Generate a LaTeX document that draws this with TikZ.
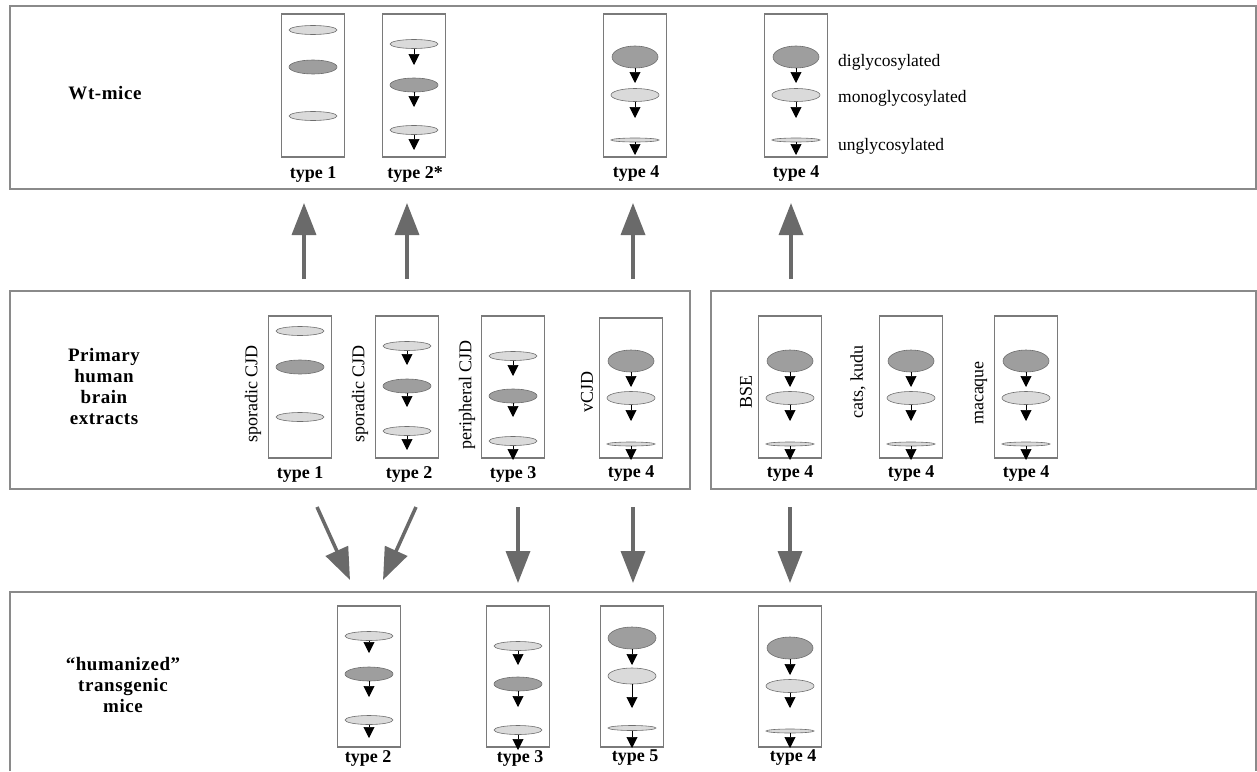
\documentclass[tikz,border=0pt]{standalone}
\usepackage{fontspec}
\setmainfont{Liberation Serif}
\newfontfamily\lblfont[LetterSpace=3]{Liberation Serif}
\usetikzlibrary{arrows.meta,shapes.geometric}
\definecolor{panelgray}{HTML}{8A8A8A}
\definecolor{lanegray}{HTML}{7A7A7A}
\definecolor{darkband}{HTML}{9E9E9E}
\definecolor{lightband}{HTML}{DADADA}
\definecolor{bandedge}{HTML}{6E6E6E}
\definecolor{bigarrow}{HTML}{6A6A6A}
\tikzset{
 panel/.style={draw=panelgray, line width=1.4pt},
 lanebox/.style={draw=lanegray, line width=1.1pt, minimum width=63pt, inner sep=0pt, outer sep=0pt},
 band/.style={ellipse, draw=bandedge, line width=0.6pt, inner sep=0pt, outer sep=0pt, minimum width=48pt},
 lband/.style={band, fill=lightband, minimum height=9pt},
 dband/.style={band, fill=darkband, minimum height=14pt},
 bigdband/.style={band, fill=darkband, minimum height=22pt, minimum width=46pt},
 midlband/.style={band, fill=lightband, minimum height=13pt},
 thinband/.style={band, fill=lightband, minimum height=4pt},
 smallarr/.style={draw=black, line width=0.6pt, -{Triangle[length=11pt,width=11pt]}},
 bigarr/.style={draw=bigarrow, line width=3.5pt, -{Triangle[length=32pt,width=24pt]}},
 typelbl/.style={font=\fontsize{18}{20}\selectfont\bfseries, inner sep=0pt},
 sidelbl/.style={font=\fontsize{18}{20}\selectfont, rotate=90, inner sep=0pt},
 glylbl/.style={font=\fontsize{17.5}{20}\selectfont, anchor=west, inner sep=0pt},
 rowlbl/.style={font=\lblfont\fontsize{19}{21}\selectfont\bfseries, align=center, inner sep=0pt},
}
\newcommand\barr[2]{\coordinate (#1t) at (#1.south |- 0,#2);\draw[smallarr] (#1.south) -- (#1t);}
\begin{document}
\begin{tikzpicture}[x=1pt,y=-1pt]
\useasboundingbox (0,0) rectangle (1257,771);
\clip (0,0) rectangle (1257,771);
% panels
\draw[panel] (10,6) rectangle (1256,189);
\draw[panel] (10,291) rectangle (690,489);
\draw[panel] (711,291) rectangle (1256,489);
\draw[panel] (10,771) -- (10,592) -- (1256,592) -- (1256,771);
% row labels
\node[rowlbl] (R1) at (105,93) {Wt-mice};
\node[rowlbl] (R2) at (104,386) {Primary\\human\\brain\\extracts};
\node[rowlbl] (R3) at (123,685) {“humanized”\\transgenic\\mice};
% ---------- top row ----------
\node[lanebox, minimum height=143pt] (T1) at (313,85.5) {};
\node[lband] (T1a) at (313,30) {};
\node[dband] (T1b) at (313,67) {};
\node[lband] (T1c) at (313,116) {};
\node[typelbl] (T1l) at (313,174) {type 1};

\node[lanebox, minimum height=143pt] (T2) at (414,85.5) {};
\node[lband] (T2a) at (414,44) {}; \barr{T2a}{65}
\node[dband] (T2b) at (414,85) {}; \barr{T2b}{107}
\node[lband] (T2c) at (414,130) {}; \barr{T2c}{150}
\node[typelbl] (T2l) at (415,174) {type 2*};

\node[lanebox, minimum height=143pt] (T3) at (635,85.5) {};
\node[bigdband] (T3a) at (635,57) {}; \barr{T3a}{83}
\node[midlband] (T3b) at (635,95) {}; \barr{T3b}{118}
\node[thinband] (T3c) at (635,140) {}; \barr{T3c}{155}
\node[typelbl] (T3l) at (636,174) {type 4};

\node[lanebox, minimum height=143pt] (T4) at (796,85.5) {};
\node[bigdband] (T4a) at (796,57) {}; \barr{T4a}{83}
\node[midlband] (T4b) at (796,95) {}; \barr{T4b}{118}
\node[thinband] (T4c) at (796,140) {}; \barr{T4c}{155}
\node[typelbl] (T4l) at (796,174) {type 4};

\node[glylbl] (G1) at (838,62) {diglycosylated};
\node[glylbl] (G2) at (838,98) {monoglycosylated};
\node[glylbl] (G3) at (838,146) {unglycosylated};
% ---------- middle row ----------
\node[lanebox, minimum height=142pt] (M1) at (300,387) {};
\node[lband] (M1a) at (300,331) {};
\node[dband] (M1b) at (300,367) {};
\node[lband] (M1c) at (300,417) {};
\node[typelbl] (M1l) at (300,474) {type 1};
\node[sidelbl] (M1s) at (253,394) {sporadic CJD};

\node[lanebox, minimum height=142pt] (M2) at (407,387) {};
\node[lband] (M2a) at (407,346) {}; \barr{M2a}{365}
\node[dband] (M2b) at (407,386) {}; \barr{M2b}{407}
\node[lband] (M2c) at (407,431) {}; \barr{M2c}{450}
\node[typelbl] (M2l) at (409,474) {type 2};
\node[sidelbl] (M2s) at (360,394) {sporadic CJD};

\node[lanebox, minimum height=142pt] (M3) at (513,387) {};
\node[lband] (M3a) at (513,356) {}; \barr{M3a}{376}
\node[dband] (M3b) at (513,396) {}; \barr{M3b}{417}
\node[lband] (M3c) at (513,441) {}; \barr{M3c}{460}
\node[typelbl] (M3l) at (513,474) {type 3};
\node[sidelbl] (M3s) at (467,395) {peripheral CJD};

\node[lanebox, minimum height=140pt] (M4) at (631,388) {};
\node[bigdband] (M4a) at (631,361) {}; \barr{M4a}{387}
\node[midlband] (M4b) at (631,398) {}; \barr{M4b}{421}
\node[thinband] (M4c) at (631,444) {}; \barr{M4c}{460}
\node[typelbl] (M4l) at (631,474) {type 4};
\node[sidelbl] (M4s) at (587,392) {vCJD};

\node[lanebox, minimum height=142pt] (M5) at (790,387) {};
\node[bigdband] (M5a) at (790,361) {}; \barr{M5a}{387}
\node[midlband] (M5b) at (790,398) {}; \barr{M5b}{421}
\node[thinband] (M5c) at (790,444) {}; \barr{M5c}{460}
\node[typelbl] (M5l) at (790,474) {type 4};
\node[sidelbl] (M5s) at (746,392) {BSE};

\node[lanebox, minimum height=142pt] (M6) at (911,387) {};
\node[bigdband] (M6a) at (911,361) {}; \barr{M6a}{387}
\node[midlband] (M6b) at (911,398) {}; \barr{M6b}{421}
\node[thinband] (M6c) at (911,444) {}; \barr{M6c}{460}
\node[typelbl] (M6l) at (911,474) {type 4};
\node[sidelbl] (M6s) at (858,382) {cats, kudu};

\node[lanebox, minimum height=142pt] (M7) at (1026,387) {};
\node[bigdband] (M7a) at (1026,361) {}; \barr{M7a}{387}
\node[midlband] (M7b) at (1026,398) {}; \barr{M7b}{421}
\node[thinband] (M7c) at (1026,444) {}; \barr{M7c}{460}
\node[typelbl] (M7l) at (1026,474) {type 4};
\node[sidelbl] (M7s) at (981,393) {macaque};
% ---------- bottom row ----------
\node[lanebox, minimum height=141pt] (B1) at (369,676.5) {};
\node[lband] (B1a) at (369,636) {}; \barr{B1a}{653}
\node[dband] (B1b) at (369,674) {}; \barr{B1b}{697}
\node[lband] (B1c) at (369,720) {}; \barr{B1c}{738}
\node[typelbl] (B1l) at (368,758) {type 2};

\node[lanebox, minimum height=141pt] (B2) at (518,676.5) {};
\node[lband] (B2a) at (518,646) {}; \barr{B2a}{665}
\node[dband] (B2b) at (518,684) {}; \barr{B2b}{707}
\node[lband] (B2c) at (518,730) {}; \barr{B2c}{750}
\node[typelbl] (B2l) at (520,758) {type 3};

\node[lanebox, minimum height=141pt] (B3) at (632,676.5) {};
\node[bigdband, minimum width=48pt] (B3a) at (632,638) {}; \barr{B3a}{665}
\node[midlband, minimum height=16pt] (B3b) at (632,676) {}; \barr{B3b}{708}
\node[thinband, minimum height=5pt] (B3c) at (632,728) {}; \barr{B3c}{748}
\node[typelbl] (B3l) at (635,758) {type 5};

\node[lanebox, minimum height=141pt] (B4) at (790,676.5) {};
\node[bigdband] (B4a) at (790,648) {}; \barr{B4a}{675}
\node[midlband] (B4b) at (790,686) {}; \barr{B4b}{708}
\node[thinband] (B4c) at (790,731) {}; \barr{B4c}{748}
\node[typelbl] (B4l) at (793,758) {type 4};
% ---------- big arrows ----------
\coordinate (u1s) at (304,279); \coordinate (u1e) at (304,203);
\coordinate (u2s) at (407,279); \coordinate (u2e) at (407,203);
\coordinate (u3s) at (633,279); \coordinate (u3e) at (633,203);
\coordinate (u4s) at (791,279); \coordinate (u4e) at (791,203);
\draw[bigarr] (u1s) -- (u1e);
\draw[bigarr] (u2s) -- (u2e);
\draw[bigarr] (u3s) -- (u3e);
\draw[bigarr] (u4s) -- (u4e);
\coordinate (d1s) at (317,507); \coordinate (d1e) at (350,580);
\coordinate (d2s) at (416,507); \coordinate (d2e) at (383,580);
\coordinate (d3s) at (518,507); \coordinate (d3e) at (518,583);
\coordinate (d4s) at (633,507); \coordinate (d4e) at (633,583);
\coordinate (d5s) at (790,507); \coordinate (d5e) at (790,583);
\draw[bigarr] (d1s) -- (d1e);
\draw[bigarr] (d2s) -- (d2e);
\draw[bigarr] (d3s) -- (d3e);
\draw[bigarr] (d4s) -- (d4e);
\draw[bigarr] (d5s) -- (d5e);
\end{tikzpicture}
\end{document}
